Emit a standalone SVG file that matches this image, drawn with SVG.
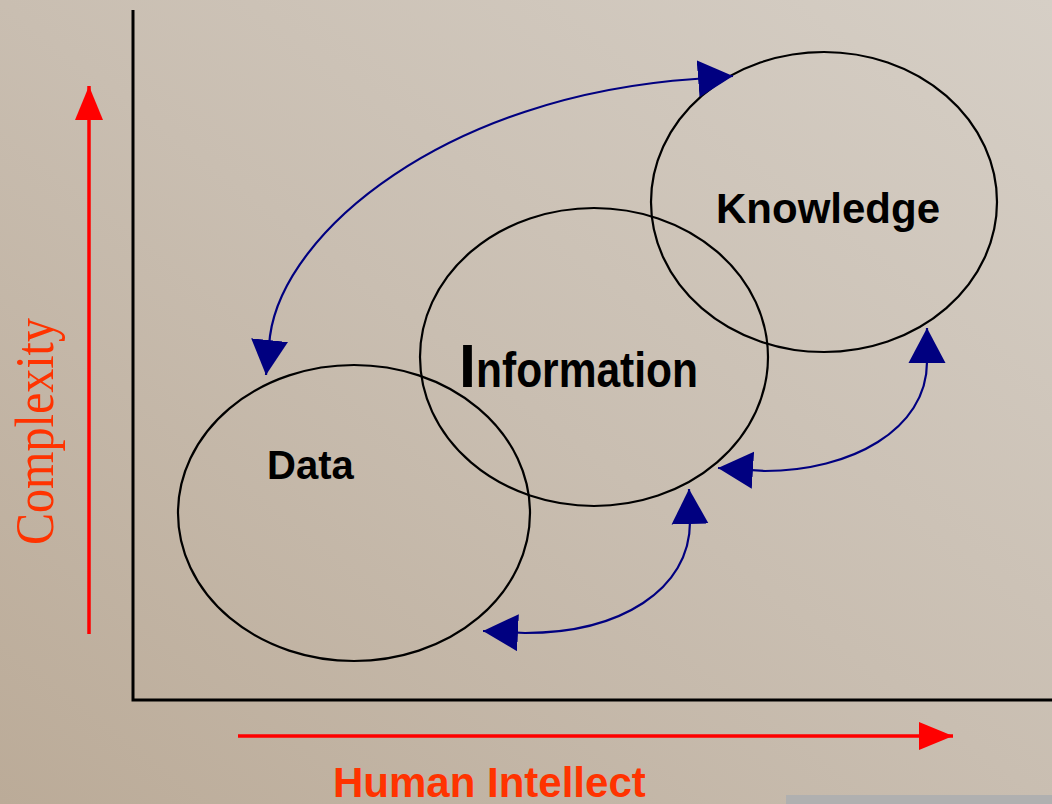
<svg xmlns="http://www.w3.org/2000/svg" width="1052" height="804" viewBox="0 0 1052 804">
<defs>
<linearGradient id="bg" x1="0" y1="1" x2="1" y2="0">
<stop offset="0" stop-color="#bbab98"/>
<stop offset="0.5" stop-color="#c9beb1"/>
<stop offset="1" stop-color="#d6cfc6"/>
</linearGradient>
<marker id="bh" markerUnits="userSpaceOnUse" markerWidth="35" markerHeight="40" viewBox="0 0 35 40" refX="35" refY="20" orient="auto-start-reverse">
<path d="M0,1.5 L35,20 L0,38.5 Z" fill="#000080"/>
</marker>
<marker id="rh" markerUnits="userSpaceOnUse" markerWidth="34" markerHeight="30" viewBox="0 0 34 30" refX="34" refY="15" orient="auto">
<path d="M0,1 L34,15 L0,29 Z" fill="#ff0000"/>
</marker>
<style>
.circ{fill:none;stroke:#000;stroke-width:2.2}
.conn{fill:none;stroke:#000080;stroke-width:2.2;marker-start:url(#bh);marker-end:url(#bh)}
.lbl{font-family:"Liberation Sans",Arial,sans-serif;font-weight:bold;fill:#000}
.axis{stroke:#000;stroke-width:3;fill:none}
.red{stroke:#ff0000;stroke-width:3.5;fill:none;marker-end:url(#rh)}
</style>
</defs>
<rect x="0" y="0" width="1052" height="804" fill="url(#bg)"/>
<rect x="786" y="795" width="266" height="9" fill="#b0b0b0"/>

<g id="axes">
<path class="axis" d="M133,10 L133,700 L1052,700"/>
<path class="red" d="M89,634 L89,86"/>
<path class="red" d="M238,736 L953,736"/>
<text transform="translate(53,545) rotate(-90)" font-family="'Liberation Serif','Times New Roman',serif" font-size="54" fill="#ff3300" textLength="227" lengthAdjust="spacingAndGlyphs">Complexity</text>
<text x="333" y="797" font-family="'Liberation Sans',Arial,sans-serif" font-weight="bold" font-size="42" fill="#ff3300">Human Intellect</text>
</g>

<g id="node-data">
<ellipse class="circ" cx="354" cy="513" rx="176" ry="148"/>
<text class="lbl" x="267" y="479" font-size="40">Data</text>
</g>
<g id="node-information">
<ellipse class="circ" cx="594" cy="357" rx="174" ry="149"/>
<text class="lbl" x="459" y="387" font-size="61">I</text>
<text class="lbl" x="476" y="387" font-size="50" textLength="222" lengthAdjust="spacingAndGlyphs">nformation</text>
</g>
<g id="node-knowledge">
<ellipse class="circ" cx="824" cy="202" rx="173" ry="150"/>
<text class="lbl" x="716" y="223" font-size="42">Knowledge</text>
</g>

<g id="connectors">
<path class="conn" d="M266,375 L270,336 C284,232 445,96 695,79 L733,76"/>
<path class="conn" d="M718,468 L765,471 C850,471 927,430 927,362 L927,328"/>
<path class="conn" d="M483,631 L525,633 C620,633 690,590 690,522 L689,489"/>
</g>
</svg>
